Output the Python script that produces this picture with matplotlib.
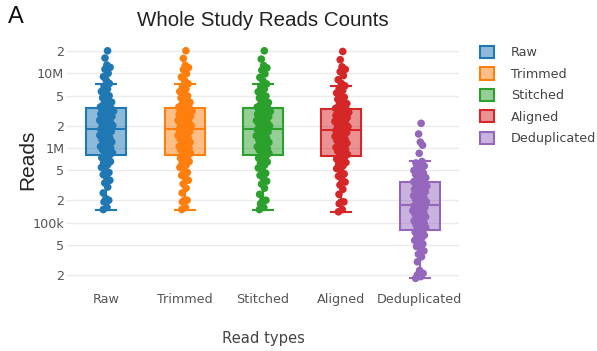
import numpy as np
import matplotlib
matplotlib.use("Agg")
import matplotlib.pyplot as plt
from matplotlib.patches import Patch
from matplotlib.colors import to_rgba

# Read counts per sample (millions of reads)
categories = ["Raw", "Trimmed", "Stitched", "Aligned", "Deduplicated"]
colors = ["#1f77b4", "#ff7f0e", "#2ca02c", "#d62728", "#9467bd"]

raw_m = [0.15, 0.16, 0.19, 0.20, 0.21, 0.25, 0.30, 0.34, 0.37, 0.40,
         0.44, 0.47, 0.52, 0.55, 0.60, 0.63, 0.66, 0.70, 0.74, 0.78,
         0.82, 0.86, 0.90, 0.95, 1.00, 1.02, 1.05, 1.10, 1.15, 1.20,
         1.25, 1.30, 1.36, 1.42, 1.48, 1.55, 1.60, 1.66, 1.72, 1.78,
         1.85, 1.92, 2.00, 2.05, 2.12, 2.20, 2.28, 2.35, 2.45, 2.55,
         2.65, 2.75, 2.85, 2.95, 3.05, 3.12, 3.20, 3.28, 3.36, 3.45,
         3.55, 3.70, 3.90, 4.10, 4.40, 4.70, 5.00, 5.30, 5.70, 6.20,
         6.70, 7.30, 8.10, 9.00, 10.0, 11.3, 12.0, 12.9, 16.0, 20.0]

trimmed_m = [0.15, 0.16, 0.19, 0.20, 0.20, 0.25, 0.29, 0.33, 0.37, 0.40,
             0.43, 0.47, 0.51, 0.55, 0.59, 0.62, 0.66, 0.70, 0.73, 0.77,
             0.81, 0.85, 0.90, 0.94, 0.99, 1.02, 1.05, 1.09, 1.14, 1.19,
             1.24, 1.30, 1.35, 1.41, 1.47, 1.54, 1.60, 1.65, 1.71, 1.77,
             1.84, 1.91, 1.99, 2.04, 2.11, 2.19, 2.27, 2.34, 2.44, 2.54,
             2.64, 2.74, 2.84, 2.94, 3.04, 3.11, 3.19, 3.27, 3.35, 3.44,
             3.54, 3.68, 3.88, 4.08, 4.38, 4.68, 4.98, 5.28, 5.68, 6.18,
             6.68, 7.25, 8.00, 8.90, 9.90, 11.2, 11.9, 12.8, 15.8, 20.0]

stitched_m = [0.15, 0.16, 0.18, 0.20, 0.20, 0.24, 0.29, 0.33, 0.36, 0.39,
              0.43, 0.46, 0.51, 0.54, 0.59, 0.62, 0.65, 0.69, 0.73, 0.77,
              0.81, 0.85, 0.89, 0.94, 0.98, 1.01, 1.04, 1.09, 1.14, 1.19,
              1.24, 1.29, 1.35, 1.40, 1.46, 1.53, 1.59, 1.65, 1.70, 1.76,
              1.83, 1.90, 1.98, 2.03, 2.10, 2.18, 2.26, 2.33, 2.43, 2.53,
              2.63, 2.73, 2.83, 2.93, 3.03, 3.10, 3.18, 3.26, 3.34, 3.43,
              3.53, 3.66, 3.86, 4.06, 4.36, 4.66, 4.96, 5.26, 5.66, 6.16,
              6.66, 7.20, 7.90, 8.80, 9.80, 11.0, 11.8, 12.7, 15.5, 20.0]

aligned_m = [0.14, 0.15, 0.18, 0.19, 0.19, 0.24, 0.28, 0.32, 0.35, 0.38,
             0.42, 0.45, 0.50, 0.53, 0.58, 0.61, 0.64, 0.68, 0.71, 0.75,
             0.78, 0.82, 0.86, 0.91, 0.96, 0.99, 1.02, 1.06, 1.11, 1.16,
             1.21, 1.26, 1.32, 1.37, 1.43, 1.49, 1.55, 1.61, 1.66, 1.72,
             1.79, 1.86, 1.93, 1.98, 2.05, 2.12, 2.20, 2.27, 2.36, 2.46,
             2.55, 2.64, 2.74, 2.84, 2.93, 3.00, 3.08, 3.15, 3.23, 3.31,
             3.40, 3.55, 3.72, 3.92, 4.20, 4.48, 4.78, 5.08, 5.45, 5.90,
             6.30, 6.80, 7.30, 8.20, 9.30, 10.5, 11.3, 12.2, 15.2, 19.6]

dedup_m = [0.018, 0.019, 0.020, 0.021, 0.023, 0.030, 0.035, 0.038, 0.042, 0.045,
           0.048, 0.052, 0.055, 0.058, 0.062, 0.065, 0.068, 0.072, 0.075, 0.078,
           0.082, 0.086, 0.090, 0.094, 0.098, 0.102, 0.106, 0.110, 0.115, 0.120,
           0.125, 0.130, 0.135, 0.140, 0.145, 0.150, 0.155, 0.160, 0.164, 0.168,
           0.175, 0.182, 0.190, 0.198, 0.206, 0.214, 0.222, 0.230, 0.240, 0.250,
           0.260, 0.270, 0.280, 0.290, 0.300, 0.310, 0.320, 0.330, 0.338, 0.345,
           0.355, 0.370, 0.385, 0.400, 0.420, 0.440, 0.460, 0.480, 0.500, 0.525,
           0.550, 0.575, 0.600, 0.630, 0.660, 0.850, 1.090, 1.200, 1.540, 2.140]

series_m = [raw_m, trimmed_m, stitched_m, aligned_m, dedup_m]

ytick_values = [2e4, 5e4, 1e5, 2e5, 5e5, 1e6, 2e6, 5e6, 1e7, 2e7]
ytick_labels = ["2", "5", "100k", "2", "5", "1M", "2", "5", "10M", "2"]

W, H = 597, 351
fig = plt.figure(figsize=(W / 100, H / 100), dpi=100)
fig.patch.set_facecolor("white")

ax = fig.add_axes([67 / W, 1 - 283 / H, (459 - 67) / W, (283 - 40) / H])
ax.set_yscale("log")
ax.set_xlim(-0.5, len(categories) - 0.5)
ax.set_ylim(1.56e4, 2.79e7)

data = [np.asarray(s) * 1e6 for s in series_m]
positions = np.arange(len(categories))
box_w = 0.51

bp = ax.boxplot(data, positions=positions, widths=box_w, whis=1.5,
                patch_artist=True, showfliers=False, capwidths=box_w / 2,
                manage_ticks=False)
for i, c in enumerate(colors):
    bp["boxes"][i].set(facecolor=to_rgba(c, 0.5), edgecolor=c, linewidth=1.5, zorder=2)
    bp["medians"][i].set(color=c, linewidth=1.5, zorder=2)
    for k in (2 * i, 2 * i + 1):
        bp["whiskers"][k].set(color=c, linewidth=1.5, zorder=2)
        bp["caps"][k].set(color=c, linewidth=1.5, zorder=2)

# density-scaled jitter for the sample points
golden = 0.6180339887
for i, (vals, c) in enumerate(zip(data, colors)):
    lv = np.log10(vals)
    dens = np.array([np.sum(np.abs(lv - v) < 0.09) for v in lv], dtype=float)
    dens = dens / dens.max()
    frac = ((np.arange(len(vals)) * golden) % 1.0) * 2 - 1
    offs = frac * 0.095 * np.sqrt(dens)
    ax.scatter(positions[i] + offs, vals, s=30, color=c, edgecolors="none",
               zorder=3)

ax.set_yticks(ytick_values)
ax.set_yticklabels(ytick_labels)
ax.yaxis.set_minor_locator(matplotlib.ticker.NullLocator())
ax.set_xticks(positions)
ax.set_xticklabels(categories)
ax.tick_params(axis="both", length=0, labelsize=9.2, labelcolor="#555555")
ax.tick_params(axis="y", pad=2.0)
ax.tick_params(axis="x", pad=7)
ax.grid(axis="y", color="#ebebeb", linewidth=1.0, zorder=0)
ax.set_axisbelow(True)
for sp in ax.spines.values():
    sp.set_visible(False)

fig.text(8 / W, 1 - 17 / H, "A", fontsize=17, family="Liberation Sans",
         color="#111111", ha="left", va="center")
fig.text(263 / W, 1 - 20 / H, "Whole Study Reads Counts", fontsize=14.8,
         family="Liberation Sans", color="#222222", ha="center", va="center")
fig.text(28 / W, 1 - 160 / H, "Reads", fontsize=15, family="Liberation Sans",
         color="#222222", rotation=90, ha="center", va="center")
fig.text(263 / W, 1 - 338 / H, "Read types", fontsize=10.6, color="#444444",
         ha="center", va="center")

handles = [Patch(facecolor=to_rgba(c, 0.5), edgecolor=c, linewidth=1.5, label=n)
           for n, c in zip(categories, colors)]
fig.legend(handles=handles, loc="upper left",
           bbox_to_anchor=(480 / W, 1 - 46 / H), frameon=False,
           prop={"size": 9.2}, labelcolor="#444444", handlelength=1.1,
           handleheight=1.1, labelspacing=0.62, handletextpad=1.3,
           borderaxespad=0, borderpad=0)

fig.savefig("out.png", dpi=100, facecolor="white")
